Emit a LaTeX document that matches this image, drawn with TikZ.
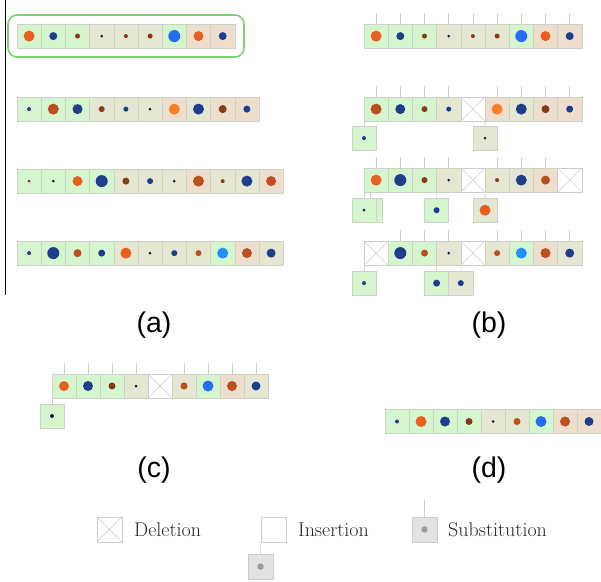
\documentclass[tikz,border=0pt]{standalone}
\usepackage{fontspec}
\newfontfamily\labfont{Liberation Sans}
\usetikzlibrary{calc}
\definecolor{cG}{RGB}{213,245,206}
\definecolor{cB}{RGB}{229,231,211}
\definecolor{cP}{RGB}{238,222,206}
\definecolor{dO}{RGB}{232,95,30}
\definecolor{dOl}{RGB}{250,128,40}
\definecolor{dR}{RGB}{185,80,30}
\definecolor{dBr}{RGB}{135,58,28}
\definecolor{dN}{RGB}{30,62,140}
\definecolor{dK}{RGB}{25,35,70}
\definecolor{dBb}{RGB}{35,110,240}
\definecolor{dBl}{RGB}{30,145,250}
\definecolor{edge}{RGB}{205,210,198}
\definecolor{lg}{RGB}{205,205,205}
\definecolor{qgreen}{RGB}{120,212,110}
\definecolor{sgray}{RGB}{226,226,226}
\definecolor{sdot}{RGB}{155,155,155}
\tikzset{
  cell/.style={draw=edge, line width=0.5pt, minimum size=24.2pt, inner sep=0pt, outer sep=0pt},
  fG/.style={fill=cG},
  fB/.style={fill=cB},
  fP/.style={fill=cP},
  fS/.style={fill=sgray, draw=lg},
  fW/.style={fill=white, draw=lg},
  fX/.style={fill=white, draw=lg, path picture={
     \draw[lg, line width=0.5pt] (path picture bounding box.north west) -- (path picture bounding box.south east)
       (path picture bounding box.north east) -- (path picture bounding box.south west);}},
  tick/.style={draw=lg, line width=0.6pt},
  conn/.style={draw=lg, line width=0.6pt},
  lab/.style={font=\labfont\fontsize{28.5}{32}\selectfont, inner sep=0pt},
  leg/.style={font=\fontsize{20}{23}\selectfont, text=black!85, inner sep=0pt, anchor=west}
}
\newcommand\seqrow[5]{%
  \foreach \f/\d/\r [count=\i] in {#5} {%
    \node[cell, minimum size=#4pt, \f] (#1-\i) at ({#2+(\i-0.5)*#4},{#3+0.5*#4}) {};
    \ifdim\r pt>0pt \fill[\d] (#1-\i.center) circle (\r pt);\fi
  }}
\newcommand\tickson[2]{\foreach \i in {#2} {\draw[tick] (#1-\i.north) -- ++(0,-11);}}
\begin{document}
\begin{tikzpicture}[x=1pt,y=-1pt]
\useasboundingbox (0,0) rectangle (601,581);
% panel (a)
\draw[line width=0.8pt] (5,0) -- (5,295);
\draw[qgreen, line width=1.6pt, rounded corners=9pt] (8,15) rectangle (244,57);
\seqrow{a1}{17}{24}{24.2}{fG/dO/5.5, fG/dN/4, fG/dBr/2.5, fB/dK/1.5, fB/dBr/2, fB/dBr/2.5, fG/dBb/6, fP/dO/5, fP/dN/4}
\seqrow{a2}{17}{97}{24.2}{fG/dN/2, fG/dR/5.5, fG/dN/5, fB/dBr/3, fB/dN/2.5, fB/dK/1.5, fP/dOl/5.5, fB/dN/5.5, fP/dBr/4, fP/dN/3.5}
\seqrow{a3}{17}{169}{24.2}{fG/dBr/1.5, fG/dK/1.5, fG/dO/5, fG/dN/6, fB/dBr/3.5, fB/dN/3, fB/dK/1.5, fP/dR/5.5, fB/dBr/2, fB/dN/5.5, fP/dR/5}
\seqrow{a4}{17}{241}{24.2}{fG/dN/2, fG/dN/6, fG/dR/4, fG/dN/3.5, fB/dO/5.5, fB/dK/1.5, fB/dN/3, fB/dR/3, fG/dBl/5.5, fP/dR/5, fB/dN/4.5}
\node[lab] (la) at (154,325) {(a)};
% panel (b)
\seqrow{b1}{364}{24}{24.2}{fG/dO/5.5, fG/dN/4, fG/dBr/2.5, fB/dK/1.5, fB/dBr/2, fB/dBr/2.5, fG/dBb/6, fP/dO/5, fP/dN/4}
\tickson{b1}{1,...,9}
\seqrow{b2}{364}{97}{24.2}{fG/dR/5.5, fG/dN/5, fG/dBr/3, fB/dN/2.5, fX/none/0, fP/dOl/5.5, fB/dN/5.5, fP/dBr/4, fP/dN/3.5}
\tickson{b2}{1,2,3,4,6,7,8,9}
\node[cell, fG] (b2c1) at (364,138.1) {}; \fill[dN] (b2c1.center) circle (2pt);
\node[cell, fB] (b2c2) at (485,138.1) {}; \fill[dK] (b2c2.center) circle (1.5pt);
\draw[conn] (b2-1.south west) -- (b2c1.north);
\draw[conn] (b2-5.south east) -- (b2c2.north);
\seqrow{b3}{364}{168}{24.2}{fG/dO/5.5, fG/dN/6, fG/dBr/3, fB/dK/1.5, fX/none/0, fB/dBr/2, fB/dN/5.5, fP/dR/4.5, fX/none/0}
\tickson{b3}{1,2,3,4,6,7,8}
\node[cell, fG] (b3c0) at (370,210.2) {};
\node[cell, fG] (b3c1) at (364,210.2) {}; \fill[dK] (b3c1.center) circle (1.5pt);
\node[cell, fG] (b3c2) at (436.6,210.2) {}; \fill[dN] (b3c2.center) circle (3pt);
\node[cell, fB] (b3c3) at (485,210.2) {}; \fill[dO] (b3c3.center) circle (5.5pt);
\draw[conn] (b3-1.south west) -- (b3c1.north);
\draw[conn] (b3c0.north |- b3-1.south) -- (b3c0.north);
\draw[conn] (b3-3.south east) -- (b3c2.north);
\draw[conn] (b3-5.south east) -- (b3c3.north);
\seqrow{b4}{364}{241}{24.2}{fX/none/0, fG/dN/6, fG/dR/3.5, fB/dK/1.5, fX/none/0, fB/dR/3, fG/dBl/5.5, fP/dR/5, fB/dN/4.5}
\tickson{b4}{2,3,4,6,7,8,9}
\node[cell, fG] (b4c1) at (364,283.1) {}; \fill[dN] (b4c1.center) circle (2pt);
\node[cell, fG] (b4c2) at (436.6,283.1) {}; \fill[dN] (b4c2.center) circle (3.5pt);
\node[cell, fB] (b4c3) at (460.8,283.1) {}; \fill[dN] (b4c3.center) circle (3pt);
\draw[conn] (b4-1.south west) -- (b4c1.north);
\draw[conn] (b4-3.south east) -- (b4c2.north);
\draw[conn] (b4-4.south east) -- (b4c3.north);
\node[lab] (lb) at (489,325) {(b)};
% panel (c)
\seqrow{c1}{52}{374}{24}{fG/dO/5, fG/dN/5, fG/dBr/3.5, fB/dK/1.5, fX/none/0, fB/dR/3.5, fG/dBb/5.5, fP/dR/5, fB/dN/4.5}
\tickson{c1}{1,2,3,4,6,7,8,9}
\node[cell, minimum size=24pt, fG] (cc1) at (52,416) {}; \fill[dK] (cc1.center) circle (2pt);
\draw[conn] (c1-1.south west) -- (cc1.north);
\node[lab] (lc) at (154,470) {(c)};
% panel (d)
\seqrow{d1}{385}{409.5}{24}{fG/dN/2, fG/dO/5.5, fG/dN/5, fG/dBr/3.5, fB/dK/1.5, fB/dR/3.5, fG/dBb/5.5, fP/dR/5, fP/dN/4.5}
\node[lab] (ld) at (489,470) {(d)};
% legend
\node[cell, minimum size=25pt, fX] (gdel) at (109.5,529.5) {};
\node[leg] (tdel) at (134,529.5) {Deletion};
\node[cell, minimum size=25pt, fW] (gins) at (273.5,529.5) {};
\node[cell, minimum size=25pt, fS] (ginc) at (260.5,566.5) {}; \fill[sdot] (ginc.center) circle (3.2pt);
\draw[conn] (gins.south west) -- (ginc.north);
\node[leg] (tins) at (298,529.5) {Insertion};
\node[cell, minimum size=25pt, fS] (gsub) at (424.5,529.5) {}; \fill[sdot] (gsub.center) circle (3.2pt);
\draw[tick] (gsub.north) -- ++(0,-17);
\node[leg] (tsub) at (448,529.5) {Substitution};
\end{tikzpicture}
\end{document}
